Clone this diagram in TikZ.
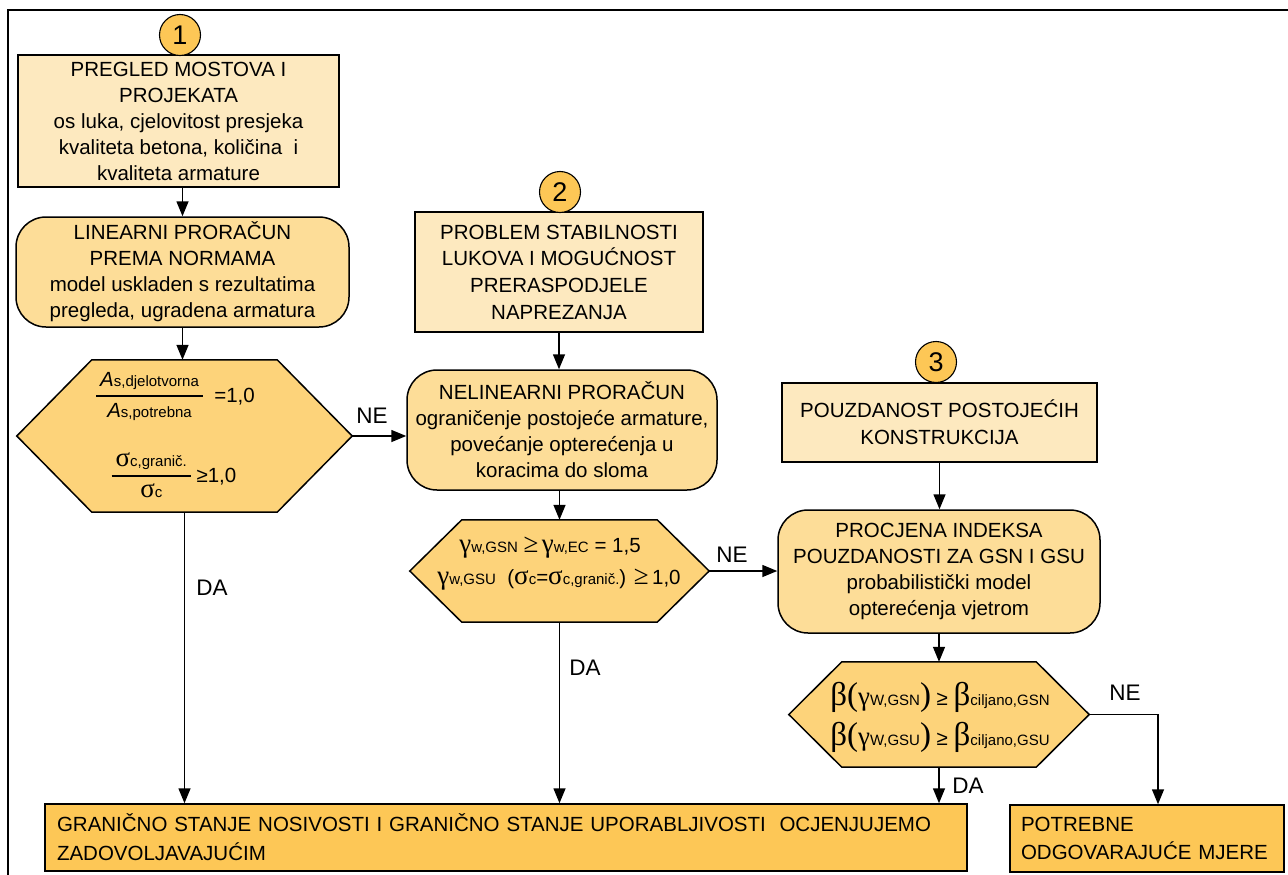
\documentclass[tikz,border=0pt]{standalone}
\usepackage{fontspec}
\setmainfont{Liberation Sans}
\newfontfamily\grk{Liberation Serif}
\usetikzlibrary{arrows.meta,calc}
\definecolor{cA}{RGB}{253,233,191}
\definecolor{cB}{RGB}{253,221,152}
\definecolor{cC}{RGB}{253,211,122}
\definecolor{cD}{RGB}{253,199,86}
\setlength{\arrayrulewidth}{1.3pt}
\newcommand\sbs[1]{{\fontsize{15}{15}\selectfont #1}}
\newcommand\gs[1]{{\grk\fontsize{27}{27}\selectfont #1}}
\newcommand\gb[1]{{\grk\fontsize{33}{33}\selectfont #1}}
\newcommand\frc[2]{\begin{tabular}{@{\hspace{4pt}}c@{\hspace{4pt}}}#1\\[1pt]\hline\rule{0pt}{21pt}#2\end{tabular}}
\newcommand\hexpath[2]{\filldraw[hexst] (#1.west) -- ([xshift=#2]#1.north west) -- ([xshift=-#2]#1.north east) -- (#1.east) -- ([xshift=-#2]#1.south east) -- ([xshift=#2]#1.south west) -- cycle;}
\begin{document}
\begin{tikzpicture}[x=1pt,y=-1pt,
  every node/.style={font=\fontsize{20.5}{26}\selectfont, inner sep=0pt},
  boxA/.style={draw, line width=1.5pt, fill=cA, align=center},
  rboxB/.style={draw, line width=1.5pt, fill=cB, rounded corners=30pt, align=center},
  boxD/.style={draw, line width=1.5pt, fill=cD, align=left, inner xsep=12pt, font=\fontsize{20.5}{29}\selectfont},
  hexst/.style={draw, line width=1.5pt, fill=cC},
  hexn/.style={},
  circ/.style={circle, draw, line width=1.1pt, fill=cD, minimum size=41pt, font=\fontsize{27}{27}\selectfont},
  arr/.style={line width=1.5pt, -{Triangle[length=15pt,width=12pt]}},
  lbl/.style={font=\fontsize{22.5}{22.5}\selectfont}]
\useasboundingbox (0,0) rectangle (1288,875);
\draw[line width=2pt] (8,875) -- (8,10) -- (1288,10);

% column 1
\node[boxA, minimum width=321pt, minimum height=132pt] (b1) at (178.5,121)
  {PREGLED MOSTOVA I\\PROJEKATA\\os luka, cjelovitost presjeka\\kvaliteta betona, količina\ \ i\\kvaliteta armature};
\node[circ] (n1) at (180,35) {1};
\node[rboxB, minimum width=333pt, minimum height=110pt] (rb1) at (182.5,272)
  {LINEARNI PRORAČUN\\PREMA NORMAMA\\model uskladen s rezultatima\\pregleda, ugradena armatura};
\node[hexn, minimum width=335pt, minimum height=152pt] (h1) at (184.5,436) {};
\hexpath{h1}{75pt}
\node (h1a) at (175.5,397) {\frc{\textit{A}\sbs{s,djelotvorna}}{\textit{A}\sbs{s,potrebna}}\ \ =1,0};
\node (h1b) at (174,477) {\frc{\gs{σ}\sbs{c,granič.}}{\gs{σ}\sbs{c}} ≥1,0};

% column 2
\node[boxA, minimum width=288pt, minimum height=120pt, font=\fontsize{20.5}{26.7}\selectfont] (b2) at (559,272)
  {PROBLEM STABILNOSTI\\LUKOVA I MOGUĆNOST\\PRERASPODJELE\\NAPREZANJA};
\node[circ] (n2) at (560,192) {2};
\node[rboxB, minimum width=310pt, minimum height=120pt] (rb2) at (562,430)
  {NELINEARNI PRORAČUN\\ograničenje postojeće armature,\\povećanje opterećenja u\\koracima do sloma};
\node[hexn, minimum width=299pt, minimum height=102pt] (h2) at (559.5,571) {};
\hexpath{h2}{52pt}
\node (h2a) at (550,548) {\gs{γ}\sbs{w,GSN} \gs{≥}\,\gs{γ}\sbs{w,EC} = 1,5};
\node (h2b) at (559,580) {\gs{γ}\sbs{w,GSU}\ \ (\gs{σ}\sbs{c}=\gs{σ}\sbs{c,granič.}) \gs{≥}\,1,0};

% column 3
\node[boxA, minimum width=315pt, minimum height=79pt, font=\fontsize{20.5}{27}\selectfont] (b3) at (939.5,422.5)
  {POUZDANOST POSTOJEĆIH\\KONSTRUKCIJA};
\node[circ] (n3) at (936,362) {3};
\node[rboxB, minimum width=322pt, minimum height=123pt] (rb3) at (939,571.5)
  {PROCJENA INDEKSA\\POUZDANOSTI ZA GSN I GSU\\probabilistički model\\opterećenja vjetrom};
\node[hexn, minimum width=300pt, minimum height=105pt] (h3) at (939,714.5) {};
\hexpath{h3}{53pt}
\node (h3a) at (940,697) {\gb{β(}\gs{γ}\sbs{W,GSN}\gb{)} ≥ \gb{β}\sbs{ciljano,GSN}};
\node (h3b) at (940,737) {\gb{β(}\gs{γ}\sbs{W,GSU}\gb{)} ≥ \gb{β}\sbs{ciljano,GSU}};

% bottom
\node[boxD, text width=898pt, minimum height=67pt] (big) at (506,837.5)
  {GRANIČNO STANJE NOSIVOSTI I GRANIČNO STANJE UPORABLJIVOSTI\ \ OCJENJUJEMO\\ZADOVOLJAVAJUĆIM};
\node[boxD, text width=252pt, minimum height=67pt, inner xsep=11pt, font=\fontsize{20.5}{28}\selectfont] (pot) at (1147,838.5)
  {POTREBNE\\ODGOVARAJUĆE MJERE};

% connectors
\draw[arr] (rb1.north |- b1.south) -- (rb1.north);
\draw[arr] (rb1.south) -- (rb1.south |- h1.north);
\draw[arr] (h1.east) -- (h1.east -| rb2.west);
\draw[arr] (h1.south) -- (h1.south |- big.north);
\draw[arr] (b2.south) -- (b2.south |- rb2.north);
\draw[arr] (h2.north |- rb2.south) -- (h2.north);
\draw[arr] (h2.east) -- (h2.east -| rb3.west);
\draw[arr] (h2.south) -- (h2.south |- big.north);
\draw[arr] (b3.south) -- (b3.south |- rb3.north);
\draw[arr] (rb3.south) -- (rb3.south |- h3.north);
\draw[arr] (h3.south) -- (h3.south |- big.north);
\draw[arr] (h3.east) -| ([xshift=11pt]pot.north);

% labels
\node[lbl] (ne1) at (372,416) {NE};
\node[lbl] (ne2) at (732,555) {NE};
\node[lbl] (ne3) at (1125,693) {NE};
\node[lbl] (da1) at (212,588) {DA};
\node[lbl] (da2) at (585,668) {DA};
\node[lbl] (da3) at (968,786) {DA};
\end{tikzpicture}
\end{document}
